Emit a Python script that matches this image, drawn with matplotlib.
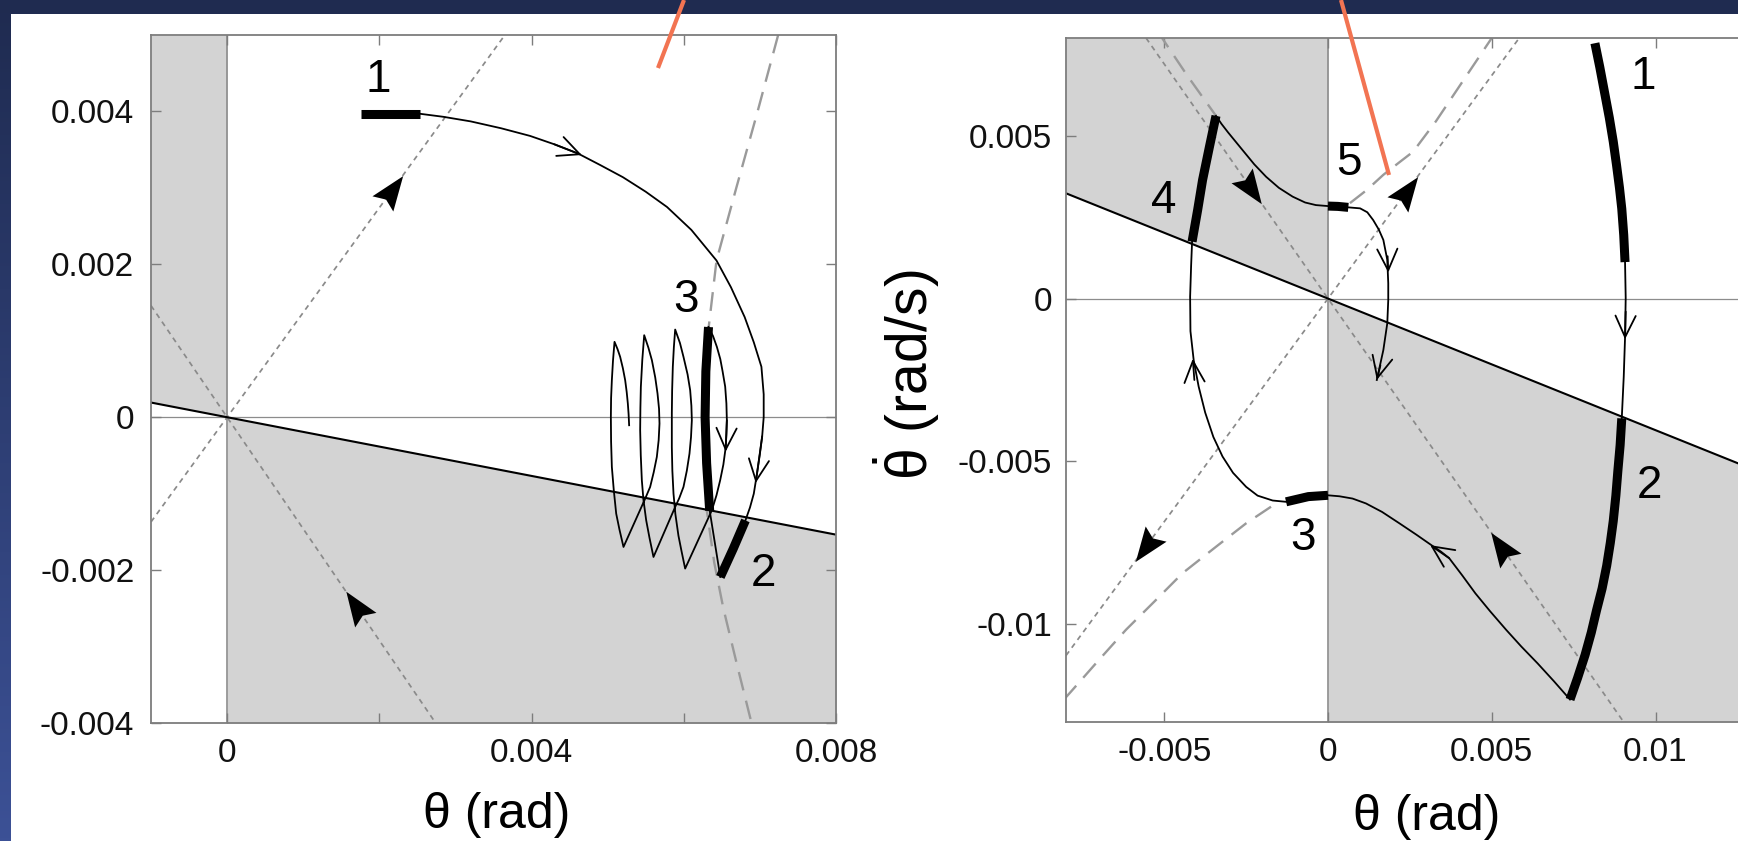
import numpy as np
import matplotlib
matplotlib.use("Agg")
import matplotlib.pyplot as plt
from matplotlib.path import Path
from matplotlib.markers import MarkerStyle
from matplotlib.transforms import Affine2D
from matplotlib.patches import Rectangle
from matplotlib.lines import Line2D
from matplotlib.colors import LinearSegmentedColormap

plt.rcParams['font.family'] = ['Liberation Sans', 'DejaVu Sans']
plt.rcParams['mathtext.fontset'] = 'custom'
plt.rcParams['mathtext.rm'] = 'Liberation Sans'
plt.rcParams['mathtext.it'] = 'Liberation Sans'

# All phase-plane values are in milli-units (mrad, mrad/s); tick labels show rad.

# ---------------- left panel ----------------
L_xlim = (-1.0, 8.0)
L_ylim = (-4.0, 5.0)
L_switch_slope = -0.192
L_unstable_slope = 1.37
L_stable_slope = -1.46
L_xticks = [0, 2, 4, 6, 8]
L_xticklabels = ['0', '', '0.004', '', '0.008']
L_yticks = [-4, -2, 0, 2, 4]
L_yticklabels = ['-0.004', '-0.002', '0', '0.002', '0.004']

L_dash_x = [7.24, 6.97, 6.69, 6.43, 6.33, 6.27, 6.26, 6.30, 6.40, 6.52, 6.69, 6.87, 6.92]
L_dash_y = [5.0, 4.0, 3.0, 2.05, 1.2, 0.4, -0.4, -1.2, -1.9, -2.5, -3.2, -3.92, -4.1]

L_seg1_x = [1.76, 2.53]
L_seg1_y = [3.97, 3.97]
L_arc_x = [2.53, 2.84, 3.20, 3.60, 3.98, 4.30, 4.61, 4.90, 5.20, 5.50, 5.78, 6.10, 6.43,
           6.62, 6.80, 6.92, 7.02, 7.05, 7.05, 7.03, 7.00, 6.96, 6.92, 6.87, 6.81]
L_arc_y = [3.97, 3.93, 3.87, 3.78, 3.68, 3.57, 3.45, 3.30, 3.14, 2.95, 2.75, 2.45, 2.05,
           1.70, 1.31, 0.98, 0.66, 0.30, 0.00, -0.25, -0.48, -0.75, -1.00, -1.18, -1.35]
L_seg2_x = [6.81, 6.65, 6.48]
L_seg2_y = [-1.35, -1.72, -2.09]
L_link_x = [6.48, 6.34]
L_link_y = [-2.09, -1.22]
L_seg3_x = [6.34, 6.30, 6.28, 6.29, 6.325]
L_seg3_y = [-1.22, -0.60, 0.00, 0.60, 1.18]
L_zig_x = [6.325, 6.385, 6.435, 6.48, 6.51, 6.544, 6.56, 6.566, 6.56, 6.55, 6.52, 6.478, 6.43, 6.369, 6.018,
           5.97, 5.93, 5.89, 5.865, 5.85, 5.843, 5.843, 5.847, 5.856, 5.87, 5.887,
           5.95, 5.996, 6.05, 6.084, 6.10, 6.106, 6.095, 6.075, 6.04, 5.996, 5.94, 5.887, 5.602,
           5.55, 5.506, 5.47, 5.449, 5.435, 5.427, 5.43, 5.436, 5.455, 5.480,
           5.535, 5.581, 5.625, 5.655, 5.675, 5.681, 5.67, 5.646, 5.605, 5.558, 5.493, 5.208,
           5.155, 5.112, 5.08, 5.055, 5.045, 5.042, 5.045, 5.055, 5.07, 5.090,
           5.13, 5.164, 5.20, 5.23, 5.25, 5.265, 5.275, 5.282]
L_zig_y = [1.18, 1.06, 0.92, 0.76, 0.60, 0.40, 0.18, -0.04, -0.22, -0.40, -0.62, -0.825, -1.02, -1.217, -1.98,
           -1.75, -1.55, -1.27, -1.00, -0.70, -0.39, 0.05, 0.35, 0.66, 0.92, 1.147,
           0.97, 0.79, 0.56, 0.353, 0.15, -0.04, -0.26, -0.476, -0.70, -0.912, -1.06, -1.174, -1.828,
           -1.58, -1.348, -1.08, -0.825, -0.50, -0.17, 0.12, 0.397, 0.75, 1.073,
           0.91, 0.746, 0.52, 0.31, 0.11, -0.083, -0.30, -0.519, -0.72, -0.912, -1.065, -1.697,
           -1.47, -1.261, -0.95, -0.65, -0.32, 0.004, 0.25, 0.484, 0.74, 0.986,
           0.89, 0.79, 0.64, 0.484, 0.33, 0.179, 0.04, -0.105]

L_chevrons = [((4.30, 3.57), (4.66, 3.43)),
              ((7.03, -0.25), (6.945, -0.86)),
              ((6.566, -0.04), (6.55, -0.45))]
L_heads = [(2.14, 'unstable', 1), (1.72, 'stable', -1)]
L_labels = [('1', 1.98, 4.41), ('2', 7.05, -2.05), ('3', 6.03, 1.53)]

# ---------------- right panel ----------------
R_xlim = (-8.0, 14.0)
R_ylim = (-13.0, 8.0)
R_switch_slope = -0.404
R_unstable_slope = 1.37
R_stable_slope = -1.44
R_xticks = [-5, 0, 5, 10]
R_xticklabels = ['-0.005', '0', '0.005', '0.01']
R_yticks = [-10, -5, 0, 5]
R_yticklabels = ['-0.01', '-0.005', '0', '0.005']

R_dash1_x = [-5.2, -4.3, -3.42]
R_dash1_y = [8.2, 6.85, 5.61]
R_dash2_x = [0.67, 1.18, 1.69, 2.20, 2.60, 3.30, 4.10, 5.00, 5.15]
R_dash2_y = [2.93, 3.33, 3.80, 4.20, 4.51, 5.45, 6.65, 8.00, 8.20]
R_dash3_x = [-1.74, -2.50, -3.42, -4.44, -5.30, -6.17, -7.00, -7.85, -8.10]
R_dash3_y = [-6.39, -6.90, -7.62, -8.43, -9.30, -10.17, -11.10, -12.07, -12.35]

R_seg1_x = [8.15, 8.30, 8.45, 8.59, 8.71, 8.81, 8.90, 8.97, 9.03, 9.07]
R_seg1_y = [7.84, 7.10, 6.30, 5.55, 4.82, 4.10, 3.40, 2.76, 1.95, 1.12]
R_fall_x = [9.07, 9.09, 9.07, 9.03, 8.97]
R_fall_y = [1.12, 0.02, -1.20, -2.40, -3.68]
R_seg2_x = [8.97, 8.92, 8.85, 8.79, 8.71, 8.62, 8.51, 8.37, 8.20, 8.04, 7.85, 7.62, 7.39]
R_seg2_y = [-3.68, -4.50, -5.30, -6.05, -6.83, -7.50, -8.20, -8.90, -9.57, -10.25, -10.94, -11.65, -12.31]
R_rise_x = [7.39, 6.90, 6.40, 5.90, 5.44, 4.95, 4.50, 4.10, 3.70, 3.45, 3.20, 2.70, 2.18, 1.65, 1.16, 0.75, 0.35, 0.00]
R_rise_y = [-12.31, -11.75, -11.20, -10.68, -10.17, -9.60, -9.05, -8.50, -7.97, -7.77, -7.60, -7.25, -6.90, -6.55, -6.29, -6.14, -6.07, -6.04]
R_seg3_x = [0.00, -0.60, -1.28]
R_seg3_y = [-6.04, -6.08, -6.24]
R_loop_x = [-1.28, -1.69, -2.15, -2.50, -2.90, -3.22, -3.50, -3.75, -3.95, -4.10, -4.20, -4.21, -4.18, -4.15]
R_loop_y = [-6.24, -6.20, -6.05, -5.78, -5.35, -4.85, -4.25, -3.50, -2.70, -1.90, -1.00, 0.06, 1.00, 1.75]
R_seg4_x = [-4.15, -3.98, -3.83, -3.62, -3.42]
R_seg4_y = [1.75, 2.72, 3.64, 4.66, 5.61]
R_glide_x = [-3.42, -3.25, -3.05, -2.83, -2.61, -2.25, -1.89, -1.50, -1.08, -0.70, -0.37, 0.00]
R_glide_y = [5.61, 5.36, 5.10, 4.83, 4.56, 4.12, 3.74, 3.40, 3.13, 2.95, 2.87, 2.84]
R_seg5_x = [0.00, 0.30, 0.62]
R_seg5_y = [2.84, 2.83, 2.80]
R_hook_x = [0.62, 0.98, 1.20, 1.38, 1.55, 1.69, 1.81, 1.84, 1.84, 1.81, 1.69, 1.49]
R_hook_y = [2.80, 2.77, 2.65, 2.41, 2.12, 1.80, 1.19, 0.47, -0.04, -0.76, -1.58, -2.50]

R_chevrons = [((9.09, -0.40), (9.07, -1.25)),
              ((3.70, -7.97), (3.12, -7.57)),
              ((-4.08, -2.50), (-4.13, -1.85)),
              ((1.82, 1.30), (1.84, 0.80)),
              ((1.60, -2.05), (1.49, -2.50))]
R_heads = [(-2.40, 'stable', 1), (5.35, 'stable', -1),
           (2.35, 'unstable', 1), (-5.50, 'unstable', -1)]
R_labels = [('1', 9.63, 6.81), ('2', 9.83, -5.74), ('3', -0.75, -7.35),
            ('4', -5.00, 3.00), ('5', 0.63, 4.15)]

# ---------------- styling ----------------
W, H = 1738, 841
SHADE = '#d3d3d3'
FRAME = '#7d7d7d'
DOT = '#8a8a8a'
DASH = '#9a9a9a'
POINTER = '#f27452'

fig = plt.figure(figsize=(W / 100, H / 100), dpi=100)

# backdrop: blue slide frame with a white page
bg = fig.add_axes([0, 0, 1, 1], zorder=-5)
bg.set_axis_off()
cmap = LinearSegmentedColormap.from_list('slide', ['#1f2b50', '#3c5196'])
bg.imshow(np.linspace(0, 1, 256)[:, None], cmap=cmap, extent=[0, 1, 0, 1],
          aspect='auto', origin='upper')
bg.add_patch(Rectangle((11 / W, 0), 1, 1 - 14 / H, fc='white', ec='none'))
bg.set_xlim(0, 1)
bg.set_ylim(0, 1)

axL = fig.add_axes([151 / W, 1 - 723 / H, 685 / W, 688 / H])
axR = fig.add_axes([1066 / W, 1 - 722 / H, 720.5 / W, 684 / H])

HEAD = Path([(0, 1.0), (-0.6, -0.6), (0, -0.35), (0.6, -0.6), (0, 1.0)],
            [Path.MOVETO, Path.LINETO, Path.LINETO, Path.LINETO, Path.CLOSEPOLY])


def frame(ax, xlim, ylim, xt, xtl, yt, ytl, ypad):
    ax.set_xlim(xlim)
    ax.set_ylim(ylim)
    ax.set_xticks(xt)
    ax.set_xticklabels(xtl)
    ax.set_yticks(yt)
    ax.set_yticklabels(ytl)
    ax.tick_params(direction='in', length=7, width=1.0, color=FRAME,
                   top=True, right=True, labelsize=24, labelcolor='#111111')
    ax.tick_params(axis='x', pad=11)
    ax.tick_params(axis='y', pad=ypad)
    for s in ax.spines.values():
        s.set_color(FRAME)
        s.set_linewidth(1.3)
        s.set_zorder(8)


def regions(ax, xlim, ylim, sw, up, st):
    x0, x1 = xlim
    y0, y1 = ylim
    ax.fill_between([x0, 0], [sw * x0, 0], [y1, y1], color=SHADE, lw=0, zorder=0)
    ax.fill_between([0, x1], [y0, y0], [0, sw * x1], color=SHADE, lw=0, zorder=0)
    ax.axhline(0, color='#8c8c8c', lw=0.9, zorder=1)
    ax.axvline(0, color='#8c8c8c', lw=1.2, zorder=1)
    ax.axline((0, 0), slope=up, color=DOT, lw=1.25, dashes=(3, 2.6), zorder=2)
    ax.axline((0, 0), slope=st, color=DOT, lw=1.25, dashes=(3, 2.6), zorder=2)
    ax.axline((0, 0), slope=sw, color='black', lw=1.5, zorder=3)


def thin(ax, x, y):
    ax.plot(x, y, color='black', lw=1.3, zorder=4, solid_joinstyle='round')


def thick(ax, x, y):
    ax.plot(x, y, color='black', lw=6.5, zorder=5, solid_capstyle='butt',
            solid_joinstyle='round')


def dashed(ax, x, y):
    ax.plot(x, y, color=DASH, lw=1.7, dashes=(8, 4.5), zorder=2)


def chevron(ax, tail, head):
    ax.annotate('', xy=head, xytext=tail,
                arrowprops=dict(arrowstyle='->,head_length=0.55,head_width=0.26',
                                lw=1.3, color='black', shrinkA=0, shrinkB=0,
                                mutation_scale=28), zorder=6)


def filled_head(ax, x, slope, direction):
    y = slope * x
    ang = np.degrees(np.arctan2(direction * slope, direction)) - 90
    m = MarkerStyle(HEAD, transform=Affine2D().rotate_deg(ang))
    ax.plot([x], [y], marker=m, ms=31, color='black', mew=0, ls='none', zorder=6)


def labels(ax, items):
    for txt, x, y in items:
        ax.text(x, y, txt, fontsize=33, ha='center', va='center', zorder=7)


# left panel
frame(axL, L_xlim, L_ylim, L_xticks, L_xticklabels, L_yticks, L_yticklabels, 12)
regions(axL, L_xlim, L_ylim, L_switch_slope, L_unstable_slope, L_stable_slope)
dashed(axL, L_dash_x, L_dash_y)
thin(axL, L_arc_x, L_arc_y)
thin(axL, L_link_x, L_link_y)
thin(axL, L_zig_x, L_zig_y)
thick(axL, L_seg1_x, L_seg1_y)
thick(axL, L_seg2_x, L_seg2_y)
thick(axL, L_seg3_x, L_seg3_y)
for t, h in L_chevrons:
    chevron(axL, t, h)
for x, kind, d in L_heads:
    filled_head(axL, x, L_unstable_slope if kind == 'unstable' else L_stable_slope, d)
labels(axL, L_labels)

# right panel
frame(axR, R_xlim, R_ylim, R_xticks, R_xticklabels, R_yticks, R_yticklabels, 10)
regions(axR, R_xlim, R_ylim, R_switch_slope, R_unstable_slope, R_stable_slope)
dashed(axR, R_dash1_x, R_dash1_y)
dashed(axR, R_dash2_x, R_dash2_y)
dashed(axR, R_dash3_x, R_dash3_y)
for xs, ys in [(R_fall_x, R_fall_y), (R_rise_x, R_rise_y), (R_loop_x, R_loop_y),
               (R_glide_x, R_glide_y), (R_hook_x, R_hook_y)]:
    thin(axR, xs, ys)
for xs, ys in [(R_seg1_x, R_seg1_y), (R_seg2_x, R_seg2_y), (R_seg3_x, R_seg3_y),
               (R_seg4_x, R_seg4_y), (R_seg5_x, R_seg5_y)]:
    thick(axR, xs, ys)
for t, h in R_chevrons:
    chevron(axR, t, h)
for x, kind, d in R_heads:
    filled_head(axR, x, R_unstable_slope if kind == 'unstable' else R_stable_slope, d)
labels(axR, R_labels)

# axis titles
fig.text(497 / W, 1 - 815 / H, 'θ (rad)', fontsize=36, ha='center', va='center')
fig.text(1427 / W, 1 - 817 / H, 'θ (rad)', fontsize=36, ha='center', va='center')
fig.text(907 / W, 1 - 375 / H, r'$\dot{\theta}$ (rad/s)', fontsize=41,
         rotation=90, ha='center', va='center')

# pointer strokes from the slide title
pointers = [((684, 0), (658, 68)), ((1341, 0), (1389, 175))]
for (xa, ya), (xb, yb) in pointers:
    fig.add_artist(Line2D([xa / W, xb / W], [1 - ya / H, 1 - yb / H],
                          transform=fig.transFigure, color=POINTER, lw=3,
                          solid_capstyle='butt', zorder=20))

fig.savefig('out.png', dpi=100)
